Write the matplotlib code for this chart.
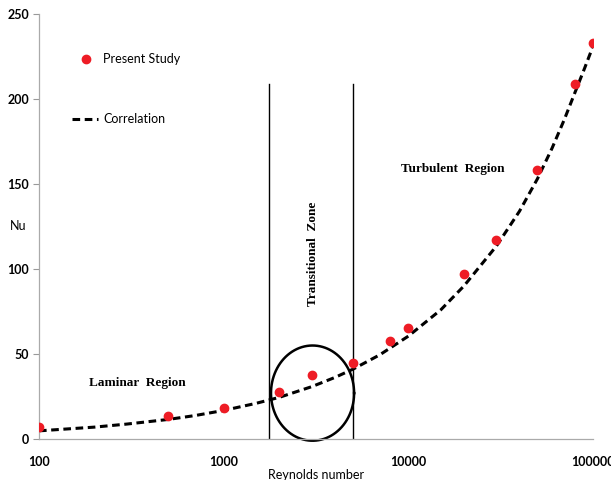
"""Nusselt number against Reynolds number across flow regimes."""

import numpy as np
import matplotlib

matplotlib.use("Agg")
from matplotlib import pyplot as plt  # noqa: E402

# measured points
re_study = [100, 500, 1000, 2000, 3000, 5000, 8000, 10000, 20000, 30000, 50000, 80000, 100000]
nu_study = [7, 13.5, 18, 27.6, 37.6, 44.8, 57.6, 65.3, 97, 117, 158, 209, 233]

# correlation curve
re_corr = [100, 200, 300, 500, 700, 1000, 1500, 2000, 3000, 4000, 5000, 7000, 10000,
           15000, 20000, 30000, 40000, 50000, 60000, 70000, 80000, 90000, 100000]
nu_corr = [4.8, 7.0, 8.8, 11.5, 13.8, 16.8, 21.0, 24.5, 30.8, 36.2, 41.0, 49.5, 60.5,
           76.0, 90.0, 113.5, 134.0, 153.0, 171.0, 188.0, 204.0, 218.0, 231.0]

# regime boundaries
re_bounds = [1750, 5000]
bound_top = 209

x_ticks = [100, 1000, 10000, 100000]
x_ticklabels = ["100", "1000", "10000", "100000"]
y_ticks = [0, 50, 100, 150, 200, 250]

sans = ["Lato", "DejaVu Sans"]
serif = ["Liberation Serif", "DejaVu Serif"]

fig = plt.figure(figsize=(6.11, 4.8), dpi=100)
ax = fig.add_axes([0.0638, 0.0854, 0.9067, 0.8854])

ax.plot(re_corr, nu_corr, color="black", linewidth=2.2, dashes=(2.5, 1.5), zorder=2)
ax.plot(re_study, nu_study, linestyle="none", marker="o", markersize=6,
        color="#ee1c25", zorder=3)

for re in re_bounds:
    ax.plot([re, re], [0, bound_top], color="black", linewidth=1.0, zorder=1)

# circle around the transitional points, drawn in log-x space
t = np.linspace(0, 2 * np.pi, 200)
cx, ax_half = np.log10(3030), 0.225
cy, by_half = 27, 28
ax.plot(10 ** (cx + ax_half * np.cos(t)), cy + by_half * np.sin(t),
        color="black", linewidth=1.8, clip_on=False, zorder=2)

ax.set_xscale("log")
ax.set_xlim(100, 100000)
ax.set_ylim(0, 250)
ax.set_xticks(x_ticks)
ax.set_xticklabels(x_ticklabels)
ax.minorticks_off()
ax.set_yticks(y_ticks)
ax.tick_params(axis="x", length=0, pad=12, labelsize=9)
ax.tick_params(axis="y", length=4, width=0.8, color="#999999", pad=3, labelsize=9)
for lab in ax.get_xticklabels() + ax.get_yticklabels():
    lab.set_fontfamily(sans)
    lab.set_fontweight("bold")

for side in ("top", "right"):
    ax.spines[side].set_visible(False)
for side in ("left", "bottom"):
    ax.spines[side].set_color("#aaaaaa")
    ax.spines[side].set_linewidth(0.9)

ax.set_xlabel("Reynolds number", family=sans, fontsize=9, labelpad=1)
fig.text(0.03, 0.53, "Nu", family=sans, fontsize=9, ha="center", va="center")

# legend entries
ax.plot([0.085], [0.894], transform=ax.transAxes, marker="o", markersize=6,
        color="#ee1c25", clip_on=False)
ax.text(0.1155, 0.894, "Present Study", transform=ax.transAxes, family=sans,
        fontsize=9, va="center")
ax.plot([0.06, 0.107], [0.752, 0.752], transform=ax.transAxes, color="black",
        linewidth=2.2, dashes=(2.5, 1.5))
ax.text(0.117, 0.752, "Correlation", transform=ax.transAxes, family=sans,
        fontsize=9, va="center")

ax.text(340, 33, "Laminar  Region", family=serif, fontsize=9.5, fontweight="bold",
        ha="center", va="center")
ax.text(17500, 159, "Turbulent  Region", family=serif, fontsize=9.5, fontweight="bold",
        ha="center", va="center")
ax.text(3050, 109, "Transitional  Zone", family=serif, fontsize=9.5, fontweight="bold",
        ha="center", va="center", rotation=90)

fig.savefig("out.png", dpi=100, facecolor="white")
